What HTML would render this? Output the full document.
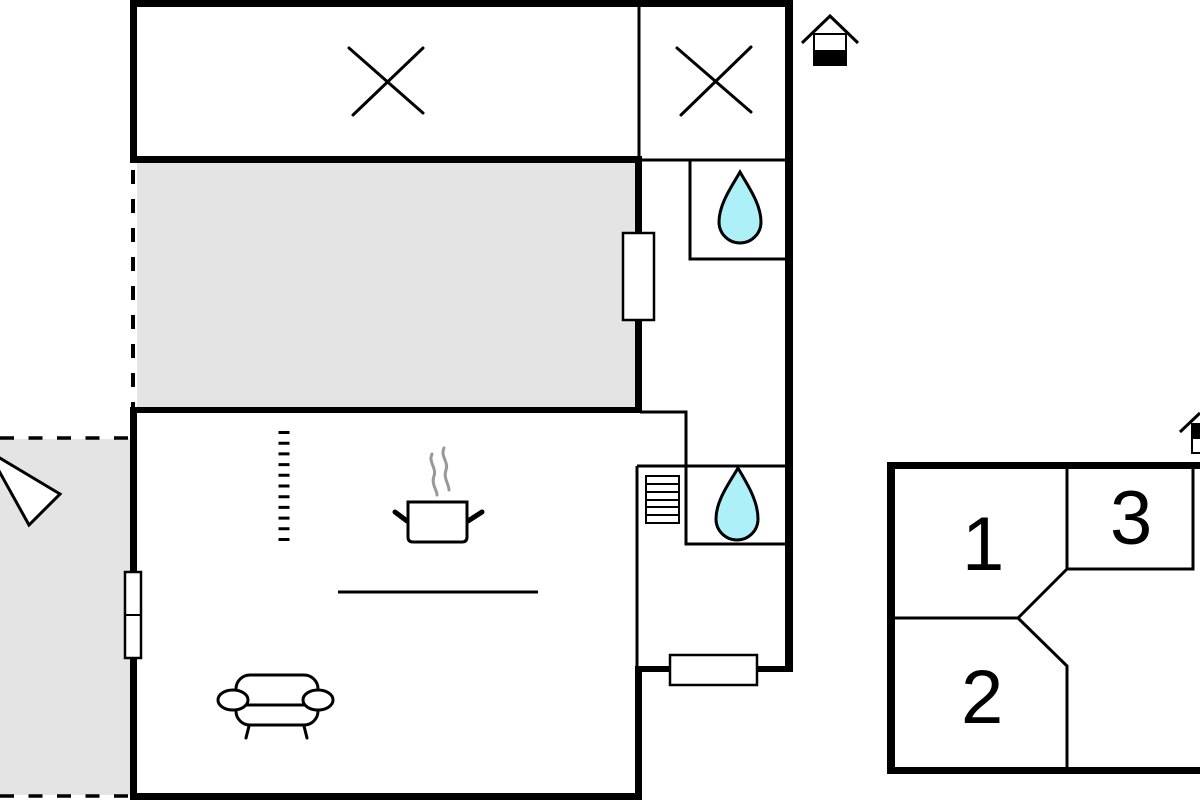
<!DOCTYPE html>
<html>
<head>
<meta charset="utf-8">
<style>
  html,body{margin:0;padding:0;background:#fff;}
  svg{display:block;}
  text{font-family:"Liberation Sans", Arial, sans-serif;}
</style>
</head>
<body>
<svg width="1200" height="800" viewBox="0 0 1200 800" xmlns="http://www.w3.org/2000/svg">
  <rect x="0" y="0" width="1200" height="800" fill="#fff"/>

  <!-- grey areas -->
  <rect x="137" y="163" width="498" height="244" fill="#e4e4e4"/>
  <rect x="0" y="439" width="130" height="356" fill="#e4e4e4"/>

  <!-- exterior dashed lines -->
  <line x1="0" y1="438" x2="130" y2="438" stroke="#000" stroke-width="3.5" stroke-dasharray="14 14.5"/>
  <line x1="0" y1="796" x2="130" y2="796" stroke="#000" stroke-width="3.5" stroke-dasharray="14 14.5"/>
  <line x1="133" y1="170" x2="133" y2="407" stroke="#000" stroke-width="4" stroke-dasharray="14 15"/>

  <!-- triangle -->
  <polygon points="-12,451 60,494 29,525" fill="#fff" stroke="#000" stroke-width="3" stroke-linejoin="miter"/>

  <!-- thick walls -->
  <g fill="#000">
    <rect x="130" y="0" width="663" height="7"/>
    <rect x="785" y="0" width="8" height="672"/>
    <rect x="130" y="0" width="7" height="163"/>
    <rect x="130" y="156" width="512" height="7"/>
    <rect x="635" y="156" width="7" height="257"/>
    <rect x="130" y="407" width="512" height="6"/>
    <rect x="130" y="407" width="7" height="393"/>
    <rect x="130" y="793" width="512" height="7"/>
    <rect x="635" y="667" width="7" height="133"/>
    <rect x="635" y="666" width="158" height="6"/>
  </g>

  <!-- thin walls -->
  <g stroke="#000" stroke-width="3" fill="none">
    <line x1="639" y1="5" x2="639" y2="160"/>
    <line x1="640" y1="160" x2="787" y2="160"/>
    <polyline points="690,160 690,259 787,259"/>
    <polyline points="640,412 686,412 686,544 787,544"/>
    <line x1="637" y1="466" x2="787" y2="466"/>
    <line x1="637" y1="466" x2="637" y2="668"/>
  </g>

  <!-- X marks -->
  <g stroke="#000" stroke-width="3" stroke-linecap="round">
    <line x1="349" y1="48" x2="423" y2="113"/>
    <line x1="353" y1="115" x2="423" y2="48"/>
    <line x1="677" y1="48" x2="751" y2="112"/>
    <line x1="681" y1="115" x2="751" y2="47"/>
  </g>

  <!-- windows -->
  <g fill="#fff" stroke="#000" stroke-width="2.5">
    <rect x="623" y="233" width="31" height="87"/>
    <rect x="670" y="655" width="87" height="30"/>
    <rect x="125" y="572" width="16" height="86"/>
  </g>
  <line x1="125" y1="615" x2="141" y2="615" stroke="#000" stroke-width="2"/>

  <!-- drops -->
  <path d="M740,172 C748,186 761,204 761,222 A21,21 0 0 1 719,222 C719,204 732,186 740,172 Z" fill="#aef0f8" stroke="#000" stroke-width="3"/>
  <path d="M738,468 C746,482 758,500 758,519 A21,21 0 0 1 716,519 C716,500 730,482 738,468 Z" fill="#aef0f8" stroke="#000" stroke-width="3"/>

  <!-- radiator -->
  <rect x="646" y="476" width="33" height="47" fill="#fff" stroke="#000" stroke-width="2"/>
  <g stroke="#000" stroke-width="2">
    <line x1="646" y1="484" x2="679" y2="484"/>
    <line x1="646" y1="492" x2="679" y2="492"/>
    <line x1="646" y1="500" x2="679" y2="500"/>
    <line x1="646" y1="507" x2="679" y2="507"/>
    <line x1="646" y1="515" x2="679" y2="515"/>
  </g>

  <!-- kitchen hatch -->
  <line x1="284" y1="431" x2="284" y2="543" stroke="#000" stroke-width="11" stroke-dasharray="3 7.7"/>

  <!-- pot -->
  <g stroke="#999" stroke-width="3" fill="none" stroke-linecap="round">
    <path d="M432,454 C428,462 437,468 434,476 C431,484 437,490 437,495"/>
    <path d="M444,448 C440,456 449,462 446,470 C443,478 449,484 449,490"/>
  </g>
  <path d="M408,502 L467,502 L467,537 Q467,542 462,542 L413,542 Q408,542 408,537 Z" fill="#fff" stroke="#000" stroke-width="3"/>
  <g stroke="#000" stroke-width="5" stroke-linecap="round">
    <line x1="395" y1="512" x2="407" y2="521"/>
    <line x1="468" y1="521" x2="482" y2="512"/>
  </g>
  <line x1="338" y1="592" x2="538" y2="592" stroke="#000" stroke-width="3"/>

  <!-- armchair -->
  <g stroke="#000" stroke-width="3" fill="#fff" stroke-linecap="round">
    <rect x="236" y="675" width="82" height="50" rx="14" ry="14"/>
    <line x1="246" y1="705" x2="306" y2="705"/>
    <ellipse cx="233" cy="700" rx="15" ry="10"/>
    <ellipse cx="318" cy="700" rx="15" ry="10"/>
    <line x1="249" y1="726" x2="246" y2="738"/>
    <line x1="304" y1="726" x2="307" y2="738"/>
  </g>

  <!-- house icon top -->
  <rect x="814" y="34" width="32" height="31" fill="#fff" stroke="#000" stroke-width="2"/>
  <rect x="814" y="50" width="32" height="15" fill="#000"/>
  <polyline points="802,43 830,16 858,43" fill="none" stroke="#000" stroke-width="3"/>

  <!-- house icon right edge -->
  <rect x="1192" y="424" width="14" height="29" fill="#fff" stroke="#000" stroke-width="2"/>
  <rect x="1193" y="425" width="8" height="14" fill="#000"/>
  <line x1="1180" y1="432" x2="1200" y2="413" stroke="#000" stroke-width="3"/>

  <!-- right plan -->
  <g fill="#000">
    <rect x="887" y="462" width="313" height="7"/>
    <rect x="887" y="462" width="8" height="312"/>
    <rect x="887" y="767" width="313" height="7"/>
  </g>
  <g stroke="#000" stroke-width="3" fill="none">
    <polyline points="1067,465 1067,569 1193,569 1193,465"/>
    <polyline points="1067,569 1018,618 893,618"/>
    <polyline points="1018,618 1067,666 1067,770"/>
  </g>
  <g font-size="76" fill="#000">
    <text x="962" y="570">1</text>
    <text x="1110" y="544">3</text>
    <text x="961" y="723">2</text>
  </g>
</svg>
</body>
</html>
